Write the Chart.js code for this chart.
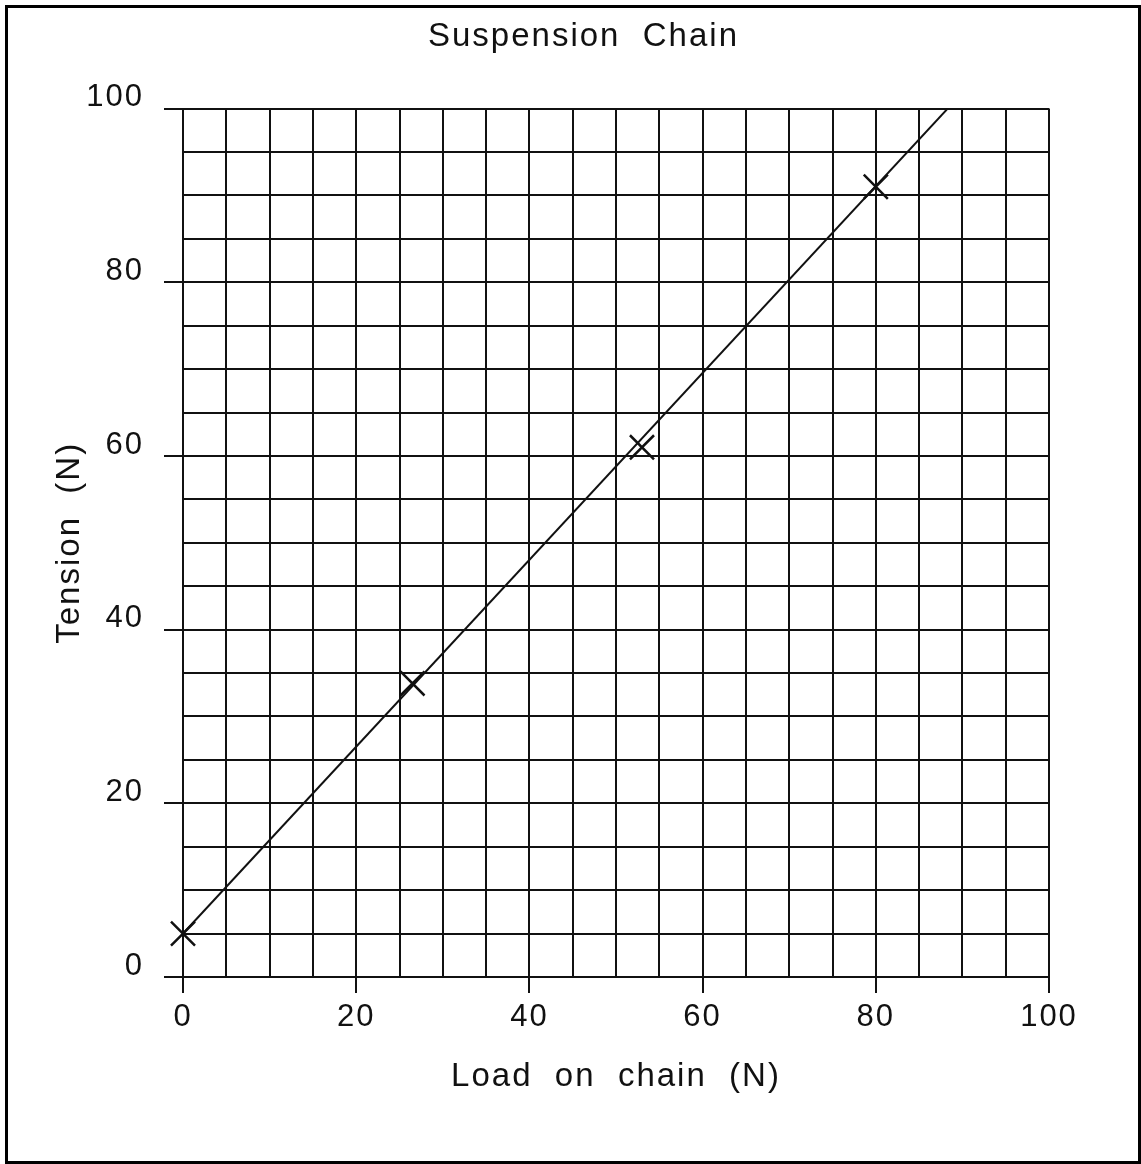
<!DOCTYPE html>
<html>
<head>
<meta charset="utf-8">
<script src="https://cdn.jsdelivr.net/npm/chart.js@4"></script>
<style>
  html, body { margin: 0; padding: 0; background: #fff; }
  #wrap { position: absolute; left: 0; top: 0; width: 1141px; height: 1164px; }
  #frame {
    position: absolute; left: 5px; top: 5px; right: 0; bottom: 0;
    border: 3px solid #000; pointer-events: none;
  }
</style>
</head>
<body>
<div id="wrap">
  <canvas id="chain_chart" width="1141" height="1164"></canvas>
  <div id="frame"></div>
</div>
<script>
// measured points (crosses)
const load_values    = [0, 26.5, 53, 80];
const tension_values = [5, 33.8, 61, 91];

// hand-drawn best fit line, end points
const fit_load    = [0, 88.3];
const fit_tension = [5, 100];

// axis ticks
const tick_step  = 5;
const label_step = 20;
const axis_min   = 0;
const axis_max   = 100;

const font_family = "'Liberation Sans', Arial, sans-serif";
const ink = '#111';

function to_points(xs, ys) {
    return xs.map((x, i) => ({x: x, y: ys[i]}));
}

function is_major(value) {
    return Math.round(value) % label_step === 0;
}

// the drawing uses widely spaced lettering
const spacing_plugin = {
    id: 'spacing',
    beforeDraw: (chart) => {
        chart.ctx.letterSpacing = '2px';
    }
};

function make_axis(title_text, title_padding, is_x) {
    return {
        type: 'linear',
        min: axis_min,
        max: axis_max,
        border: { color: ink, width: 2 },
        grid: {
            color: ink,
            lineWidth: 2,
            drawTicks: true,
            tickLength: is_x ? 16 : 19,
            tickColor: (ctx) => (ctx.tick && is_major(ctx.tick.value)) ? ink : 'rgba(0,0,0,0)',
            tickWidth: 2
        },
        ticks: {
            stepSize: tick_step,
            autoSkip: false,
            maxRotation: 0,
            color: ink,
            padding: is_x ? 6 : 20,
            labelOffset: is_x ? 0 : -11,
            font: { family: font_family, size: 31 },
            callback: (value) => is_major(value) ? String(value) : ''
        },
        title: {
            display: true,
            text: title_text,
            color: ink,
            font: { family: font_family, size: 33 },
            padding: title_padding
        },
        afterFit: (scale) => {
            if (is_x) {
                scale.height = 187;
            } else {
                scale.width = 157;
            }
        }
    };
}

const config = {
    type: 'scatter',
    data: {
        datasets: [
            {
                label: 'fit',
                data: to_points(fit_load, fit_tension),
                showLine: true,
                borderColor: ink,
                borderWidth: 2,
                pointRadius: 0
            },
            {
                label: 'measured',
                data: to_points(load_values, tension_values),
                showLine: false,
                clip: false,
                pointStyle: 'crossRot',
                pointRadius: 17,
                borderColor: ink,
                borderWidth: 2.5
            }
        ]
    },
    options: {
        responsive: false,
        animation: false,
        layout: { padding: { left: 26, right: 0, top: 0, bottom: 0 } },
        plugins: {
            legend: { display: false },
            tooltip: { enabled: false },
            title: {
                display: true,
                text: 'Suspension  Chain',
                color: ink,
                font: { family: font_family, size: 33, weight: 'normal' },
                padding: { top: 17, bottom: 52 }
            }
        },
        scales: {
            x: make_axis('Load  on  chain  (N)', { top: 0, bottom: 67 }, true),
            y: make_axis('Tension  (N)', { top: 24, bottom: 0 }, false),
            // empty margin on the right of the grid
            right_margin: {
                type: 'linear',
                position: 'right',
                grid: { display: false },
                border: { display: false },
                ticks: { display: false },
                afterFit: (scale) => { scale.width = 92; }
            }
        }
    },
    plugins: [spacing_plugin]
};

new Chart(document.getElementById('chain_chart'), config);
</script>
</body>
</html>
